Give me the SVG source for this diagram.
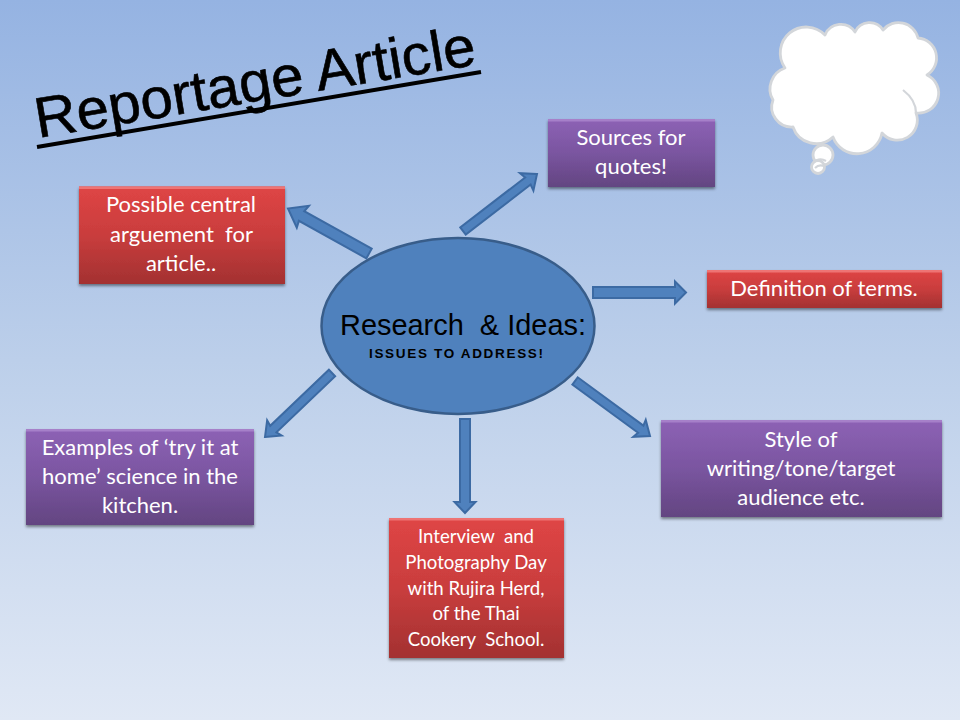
<svg xmlns="http://www.w3.org/2000/svg" width="960" height="720" viewBox="0 0 960 720">
<defs>
<linearGradient id="bg" x1="0" y1="0" x2="0" y2="1"><stop offset="0" stop-color="#95b3e2"/><stop offset="0.5" stop-color="#bccfea"/><stop offset="1" stop-color="#e0e8f5"/></linearGradient>
<linearGradient id="red" x1="0" y1="0" x2="0" y2="1"><stop offset="0" stop-color="#df4545"/><stop offset="0.5" stop-color="#c93d3d"/><stop offset="1" stop-color="#a33131"/></linearGradient>
<linearGradient id="purple" x1="0" y1="0" x2="0" y2="1"><stop offset="0" stop-color="#8d62b5"/><stop offset="0.5" stop-color="#7a55a0"/><stop offset="1" stop-color="#634581"/></linearGradient>
<filter id="sh" x="-10%" y="-10%" width="120%" height="130%"><feDropShadow dx="0" dy="2" stdDeviation="1.8" flood-color="#000" flood-opacity="0.45"/></filter>
</defs>
<style>
text{font-family:"Lato","Liberation Sans",sans-serif}
.t{fill:#fff;font-size:22px;text-anchor:middle}
.s{fill:#fff;font-size:18.6px;text-anchor:middle}
.a{font-family:"Liberation Sans",Arial,sans-serif;fill:#000}
.r{fill:url(#red);filter:url(#sh)}
.p{fill:url(#purple);filter:url(#sh)}
.hr{fill:#ee7474}
.hp{fill:#a680c9}
.arr{fill:#4f81bd;stroke:#3c6aa3;stroke-width:2}
.cl{fill:#fff;stroke:#d3d6da;stroke-width:2.8;stroke-linejoin:round}
.cn{fill:none;stroke:#d3d6da;stroke-width:2.2}
</style>
<rect width="960" height="720" fill="url(#bg)"/>

<g id="title">
<text class="a" transform="translate(38 138) rotate(-9.5)" font-size="57" stroke="#000" stroke-width="0.6" textLength="446" lengthAdjust="spacingAndGlyphs">Reportage Article</text>
<line x1="37" y1="147" x2="481" y2="72" stroke="#000" stroke-width="4"/>
</g>

<g id="thought-cloud">
<circle class="cl" cx="823" cy="155" r="10"/>
<circle class="cl" cx="818" cy="167" r="6.5"/>
<path class="cn" d="M813 163Q819 157 826 161M815 168Q819 164 824 166"/>
<path class="cl" d="M785 68A26 26 0 0 1 825 35A17 17 0 0 1 855 32A16 16 0 0 1 883 30A20 20 0 0 1 918 38A20 20 0 0 1 927 75A20 20 0 0 1 916 113A20 20 0 0 1 882 133A25.5 25.5 0 0 1 833 137A24.5 24.5 0 0 1 793 127A20 20 0 0 1 773 100A22 22 0 0 1 785 68Z"/>
<path class="cn" d="M903 90Q916 100 916 113"/>
</g>

<g id="connectors">
<path class="arr" transform="translate(288 208.5) rotate(209.05)" d="M0 0L-17-12.5L-15.5-5.5H-92.7V5.5H-15.5L-17 12.5Z"/>
<path class="arr" transform="translate(537 174) rotate(-37.6)" d="M0 0L-13-11L-11.5-4.5H-93.4V4.5H-11.5L-13 11Z"/>
<path class="arr" transform="translate(686 292.5)" d="M0 0L-11-11V-5.5H-93V5.5H-11V11Z"/>
<path class="arr" transform="translate(650 436) rotate(36.3)" d="M0 0L-13-10.5L-11.5-4.5H-93V4.5H-11.5L-13 10.5Z"/>
<path class="arr" transform="translate(465 513) rotate(90)" d="M0 0L-11-10.5V-5H-94V5H-11V10.5Z"/>
<path class="arr" transform="translate(265 437) rotate(136.3)" d="M0 0L-13-10.5L-11.5-4.5H-92.7V4.5H-11.5L-13 10.5Z"/>
</g>

<g id="center">
<ellipse cx="458" cy="326" rx="136.5" ry="88" fill="#4f81bd" stroke="#385d8a" stroke-width="2.5"/>
<text class="a" x="340" y="335" font-size="30" textLength="246" lengthAdjust="spacingAndGlyphs" xml:space="preserve">Research  &amp; Ideas:</text>
<text class="a" x="369" y="358" font-size="13.5" font-weight="700" textLength="174" lengthAdjust="spacing">ISSUES TO ADDRESS!</text>
</g>

<g id="node-central">
<rect class="r" x="79" y="186.5" width="206" height="97.5"/><rect class="hr" x="79" y="186.5" width="206" height="2.5"/>
<text class="t" x="181" y="212">Possible central</text>
<text class="t" x="181.5" y="242" xml:space="preserve">arguement  for</text>
<text class="t" x="181" y="271">article..</text>
</g>
<g id="node-sources">
<rect class="p" x="548" y="119" width="167" height="68"/><rect class="hp" x="548" y="119" width="167" height="2.5"/>
<text class="t" x="631" y="145">Sources for</text>
<text class="t" x="631" y="174">quotes!</text>
</g>
<g id="node-definition">
<rect class="r" x="707" y="270" width="235" height="38"/><rect class="hr" x="707" y="270" width="235" height="2.5"/>
<text class="t" x="824" y="296">Definition of terms.</text>
</g>
<g id="node-style">
<rect class="p" x="661" y="420" width="281" height="97"/><rect class="hp" x="661" y="420" width="281" height="2.5"/>
<text class="t" x="801" y="447">Style of</text>
<text class="t" x="801" y="476">writing/tone/target</text>
<text class="t" x="801" y="505">audience etc.</text>
</g>
<g id="node-examples">
<rect class="p" x="26" y="429" width="228" height="96"/><rect class="hp" x="26" y="429" width="228" height="2.5"/>
<text class="t" x="140" y="455">Examples of ‘try it at</text>
<text class="t" x="140" y="484">home’ science in the</text>
<text class="t" x="140" y="513">kitchen.</text>
</g>
<g id="node-interview">
<rect class="r" x="389" y="518" width="175" height="140"/><rect class="hr" x="389" y="518" width="175" height="2.5"/>
<text class="s" x="476" y="543" xml:space="preserve">Interview  and</text>
<text class="s" x="476" y="569">Photography Day</text>
<text class="s" x="476" y="595">with Rujira Herd,</text>
<text class="s" x="476" y="620">of the Thai</text>
<text class="s" x="476" y="646" xml:space="preserve">Cookery  School.</text>
</g>
</svg>
